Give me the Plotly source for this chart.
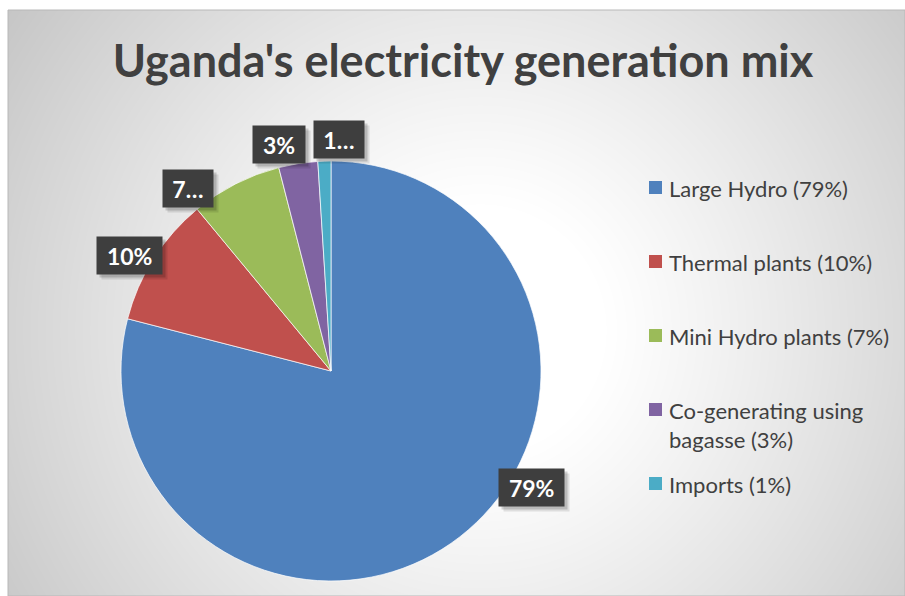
import math
import struct
import zlib
import base64

import numpy as np
import plotly.graph_objects as go

# ---- data ----
sources = [
    "Large Hydro (79%)",
    "Thermal plants (10%)",
    "Mini Hydro plants (7%)",
    "Co-generating using bagasse (3%)",
    "Imports (1%)",
]
legend_text = [
    "Large Hydro (79%)",
    "Thermal plants (10%)",
    "Mini Hydro plants (7%)",
    "Co-generating using<br>bagasse (3%)",
    "Imports (1%)",
]
shares = [79, 10, 7, 3, 1]
label_text = ["79%", "10%", "7\u2026", "3%", "1\u2026"]

# ---- style ----
W, H = 905, 596
colors = ["#4f81bd", "#c0504d", "#9bbb59", "#8064a2", "#4bacc6"]
label_nudge_deg = [-22, -2.5, -11, -4, 3.7]   # keep boxes clear of each other
FONT = "Lato"
TEXT_COLOR = "#404040"

# chart area (white margin on the top and left edges)
area_x0, area_y0 = 8, 10

# pie domain in pixels -> paper
pie_px = dict(x0=121, x1=541, y0=161, y1=581)
dom_x = [pie_px["x0"] / W, pie_px["x1"] / W]
dom_y = [1 - pie_px["y1"] / H, 1 - pie_px["y0"] / H]


def png_gray(a):
    """Encode a 2-D uint8 array as a grayscale PNG."""
    h, w = a.shape
    raw = b"".join(b"\x00" + a[i].tobytes() for i in range(h))

    def chunk(tag, data):
        c = struct.pack(">I", len(data)) + tag + data
        return c + struct.pack(">I", zlib.crc32(tag + data) & 0xFFFFFFFF)

    ihdr = struct.pack(">IIBBBBB", w, h, 8, 0, 0, 0, 0)
    return (b"\x89PNG\r\n\x1a\n" + chunk(b"IHDR", ihdr)
            + chunk(b"IDAT", zlib.compress(raw, 9)) + chunk(b"IEND", b""))


# radial grey background of the chart area
bw, bh = W - area_x0, H - area_y0
yy, xx = np.mgrid[0:bh, 0:bw]
xx = xx + area_x0
yy = yy + area_y0
d = np.hypot(xx - 480, yy - 330)
t = np.clip((d - 120) / 450, 0, 1) ** 1.1
bg = (255 - 57 * t).round().astype(np.uint8)
bg_uri = "data:image/png;base64," + base64.b64encode(png_gray(bg)).decode()

fig = go.Figure()

fig.add_trace(go.Pie(
    labels=sources,
    values=shares,
    sort=False,
    direction="clockwise",
    rotation=0,
    marker=dict(colors=colors, line=dict(color="white", width=0.7)),
    textinfo="none",
    hoverinfo="label+percent",
    domain=dict(x=dom_x, y=dom_y),
    showlegend=False,
))

# ---- data labels: dark boxes just outside the rim ----
cx = (pie_px["x0"] + pie_px["x1"]) / 2
cy = (pie_px["y0"] + pie_px["y1"]) / 2
R = min(pie_px["x1"] - pie_px["x0"], pie_px["y1"] - pie_px["y0"]) / 2
total = sum(shares)
char_w = {"%": 20, "\u2026": 17.5}

annotations = []
cum = 0
for v, txt, nudge in zip(shares, label_text, label_nudge_deg):
    mid = (cum + v / 2) / total * 360 + nudge
    cum += v
    a = math.radians(mid)
    px = cx + (R + 22) * math.sin(a)
    py = cy - (R + 22) * math.cos(a)
    tw = sum(char_w.get(ch, 13.2) for ch in txt) + 11
    for off, alpha in ((5, 0.10), (3, 0.16)):
        annotations.append(dict(
            x=(px + off) / W, y=1 - (py + off) / H, xref="paper", yref="paper",
            xanchor="center", yanchor="middle",
            text=" ", showarrow=False, width=tw, height=29, borderpad=4,
            bgcolor=f"rgba(0,0,0,{alpha})", font=dict(size=23),
        ))
    annotations.append(dict(
        x=px / W, y=1 - py / H, xref="paper", yref="paper",
        xanchor="center", yanchor="middle",
        text=txt, showarrow=False, width=tw, height=29, borderpad=4,
        bgcolor="#3e3e3e",
        font=dict(family=FONT, size=23, color="white", weight="bold"),
    ))

# ---- legend ----
shapes = [dict(
    type="rect", xref="paper", yref="paper",
    x0=area_x0 / W, x1=1, y0=0, y1=1 - area_y0 / H,
    line=dict(color="#b8b8b8", width=1), fillcolor="rgba(0,0,0,0)", layer="above",
)]
leg_x_sq, leg_x_txt = 649, 667
leg_top, leg_step = 187.5, 74
for i, (name, col) in enumerate(zip(legend_text, colors)):
    yc = leg_top + i * leg_step
    shapes.append(dict(
        type="rect", xref="paper", yref="paper",
        x0=leg_x_sq / W, x1=(leg_x_sq + 13) / W,
        y0=1 - (yc + 6.5) / H, y1=1 - (yc - 6.5) / H,
        fillcolor=col, line=dict(width=0),
    ))
    annotations.append(dict(
        x=leg_x_txt / W, y=1 - (yc - 14.5) / H, xref="paper", yref="paper",
        xanchor="left", yanchor="top", align="left", showarrow=False,
        text=name, font=dict(family=FONT, size=22, color=TEXT_COLOR),
    ))

fig.update_layout(
    width=W, height=H,
    margin=dict(l=0, r=0, t=0, b=0),
    paper_bgcolor="white",
    plot_bgcolor="rgba(0,0,0,0)",
    title=dict(
        text="Uganda's electricity generation mix",
        x=463 / W, xanchor="center", xref="paper",
        y=1 - 61 / H, yanchor="middle", yref="paper",
        font=dict(family=FONT, size=45, color=TEXT_COLOR, weight="bold"),
    ),
    images=[dict(
        source=bg_uri, xref="paper", yref="paper",
        x=area_x0 / W, y=1 - area_y0 / H, sizex=bw / W, sizey=bh / H,
        xanchor="left", yanchor="top", sizing="stretch", layer="below",
    )],
    shapes=shapes,
    annotations=annotations,
)

fig.write_html("out.html")
